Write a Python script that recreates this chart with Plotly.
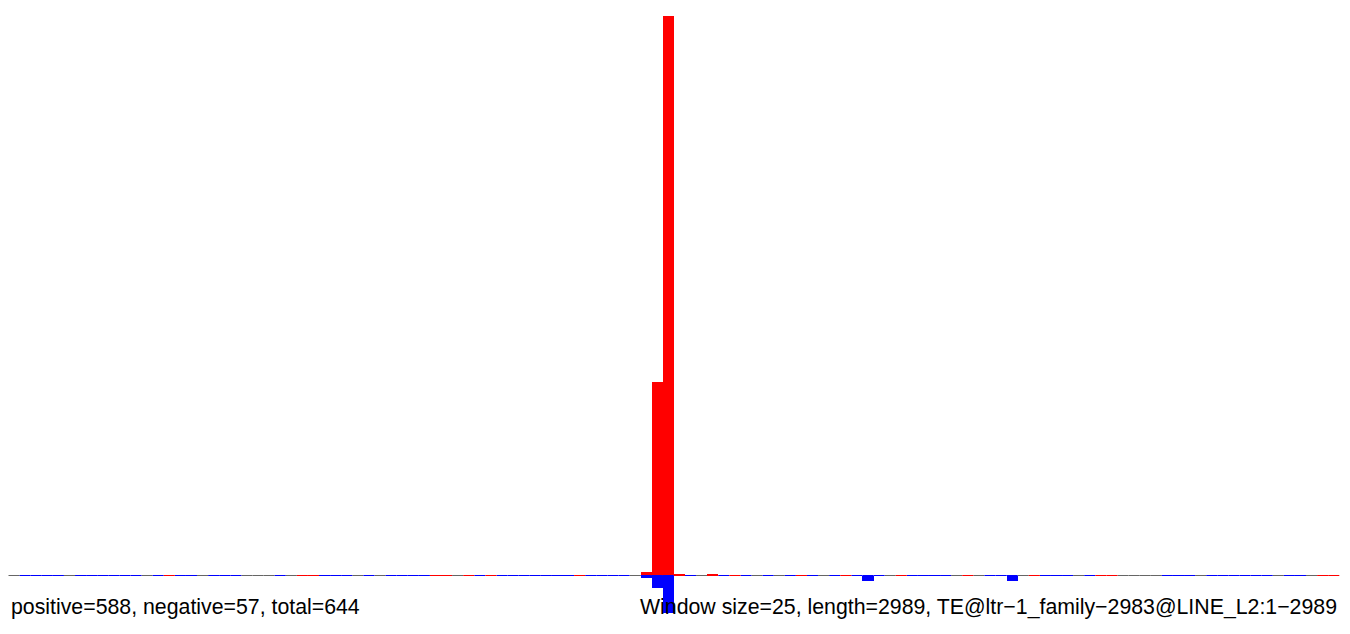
import plotly.graph_objects as go

# ---- data ----
window_size = 25
seq_length = 2989
n_windows = 120

pos_windows = [57, 58, 59, 60, 63]
pos_values = [4, 194, 560, 1.5, 2]

neg_windows = [57, 58, 59, 77, 90]
neg_values = [2, 12, 37, 5, 5]

# baseline state per window: g = none, b = minus-strand signal, r = plus-strand signal
baseline_state = list(
    "g" + "bbbb" + "g" + "bbbbbb" + "g" + "b" + "r" + "bb" + "g" + "bbb" + "ggg" + "b" + "g"
    + "rr" + "bbb" + "g" + "b" + "g" + "bbbb" + "rr" + "g" + "r" + "b" + "r" + "bbbbbbb" + "r"
    + "bbbb" + "g" + "bbb" + "r" + "b" + "g" + "r" + "b" + "r" + "b" + "g" + "b" + "g" + "b"
    + "r" + "b" + "g" + "b" + "r" + "b" + "b" + "b" + "g" + "r" + "bbbb" + "g" + "r" + "g"
    + "bb" + "b" + "g" + "r" + "bbb" + "g" + "b" + "rr" + "gggg" + "bbb" + "g" + "bbbbbb"
    + "g" + "bb" + "g" + "rr"
)

positive_total = 588
negative_total = 57
total = 644
label_left = f"positive={positive_total}, negative={negative_total}, total={total}"
label_right = (f"Window size={window_size}, length={seq_length}, "
               "TE@ltr\u22121_family\u22122983@LINE_L2:1\u22122989")

state_colors = {"g": "#666666", "b": "#0000FF", "r": "#FF0000"}

fig = go.Figure()

# baseline segments
for st, col in state_colors.items():
    xs, ys = [], []
    for k, s in enumerate(baseline_state[:n_windows]):
        if s == st:
            xs += [k, k + 1, None]
            ys += [0, 0, None]
    fig.add_trace(go.Scatter(x=xs, y=ys, mode="lines",
                             line=dict(color=col, width=1),
                             hoverinfo="skip", showlegend=False))

fig.add_trace(go.Bar(x=[w + 0.5 for w in pos_windows], y=pos_values, width=1,
                     marker=dict(color="#FF0000", line=dict(width=0)),
                     showlegend=False))
fig.add_trace(go.Bar(x=[w + 0.5 for w in neg_windows], y=[-v for v in neg_values], width=1,
                     marker=dict(color="#0000FF", line=dict(width=0)),
                     showlegend=False))

# page has an 8px body margin; figure is sized/positioned to compensate
OFF = 8
W, H = 1334, 618
px_per_win = 11.09
x0_px = 8.5 - OFF
xmin = -x0_px / px_per_win
xmax = xmin + W / px_per_win
base_px = 575.5 - OFF

fig.update_layout(
    width=W, height=H,
    margin=dict(l=0, r=0, t=0, b=0),
    paper_bgcolor="white", plot_bgcolor="white",
    barmode="overlay", bargap=0,
    showlegend=False,
    xaxis=dict(visible=False, range=[xmin, xmax], fixedrange=True),
    yaxis=dict(visible=False, range=[base_px - H, base_px], fixedrange=True),
    font=dict(family="Liberation Sans, Arial, sans-serif", color="black"),
    annotations=[
        dict(text=label_left, xref="paper", yref="paper",
             x=(9 - OFF) / W, y=1 - (607 - OFF) / H, xanchor="left", yanchor="middle",
             showarrow=False, font=dict(size=21.3)),
        dict(text=label_right, xref="paper", yref="paper",
             x=(1339 - OFF) / W, y=1 - (607 - OFF) / H, xanchor="right", yanchor="middle",
             showarrow=False, font=dict(size=21.3)),
    ],
)

fig.write_html("out.html")
